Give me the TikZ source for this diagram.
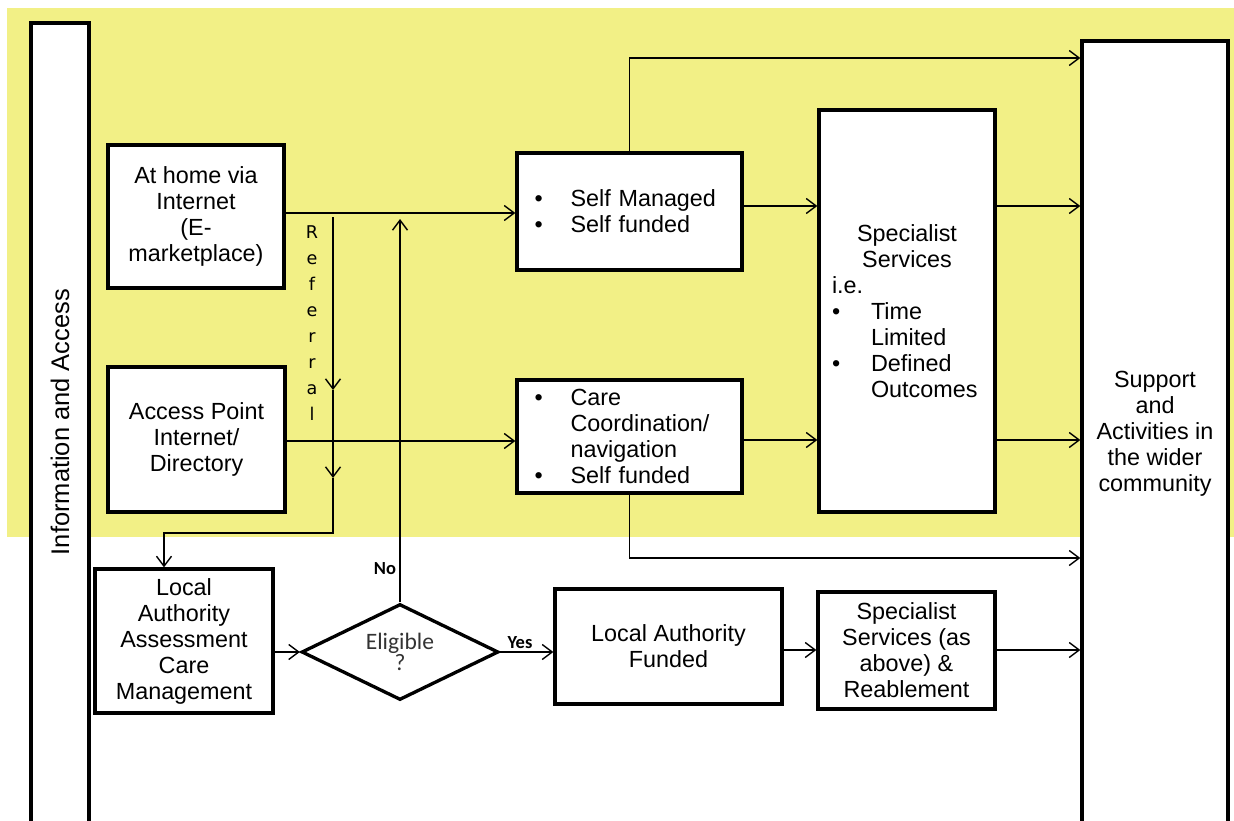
\documentclass[tikz,border=0pt]{standalone}
\usepackage{fontspec}
\setmainfont{Liberation Sans}
\newfontfamily\califont{Carlito}
\newfontfamily\dejafont{DejaVu Sans}
\usetikzlibrary{shapes.geometric,arrows.meta}
\definecolor{bgyellow}{RGB}{242,240,134}
\tikzset{
  box/.style={draw, line width=1.9pt, fill=white, inner sep=0pt},
  txt/.style={font=\fontsize{13.3}{14.8}\selectfont, align=center},
  listtxt/.style={font=\fontsize{13.3}{14.8}\selectfont, align=left},
  arr/.style={line width=0.8pt, -{Straight Barb[length=2mm,width=3mm]}},
  lbl/.style={font=\califont\bfseries\fontsize{10.5}{12}\selectfont}
}
\newcommand{\bul}[1][0.72cm]{\makebox[#1][l]{\textbullet}}

\begin{document}
\begin{tikzpicture}[x=0.02cm,y=-0.02cm]
  \useasboundingbox (0,0) rectangle (1234,821);
  \fill[bgyellow] (7,8) rectangle (1234,537);

  \node[box, minimum width=1.16cm, minimum height=16.08cm] (info) at (60,425) {};
  \node[rotate=90, font=\fontsize{14.5}{16}\selectfont] (infotxt) at (60,422) {Information and Access};
  \node[box, txt, minimum width=2.92cm, minimum height=15.72cm] (support) at (1155,434)
    {Support\\and\\Activities in\\the wider\\community};

  \node[box, txt, minimum width=3.52cm, minimum height=2.86cm] (home) at (196,216.5)
    {At home via\\Internet\\(E-\\marketplace)};
  \node[box, txt, minimum width=3.54cm, minimum height=2.9cm] (access) at (196.5,439.5)
    {Access Point\\Internet/\\Directory};
  \node[box, listtxt, text width=3.8cm, minimum width=4.5cm, minimum height=2.34cm] (self) at (629.5,211.5)
    {\bul Self Managed\\\bul Self funded};
  \node[box, listtxt, text width=3.8cm, minimum width=4.5cm, minimum height=2.26cm] (care) at (629.5,436.5)
    {\bul Care\\\hspace*{0.72cm}Coordination/\\\hspace*{0.72cm}navigation\\\bul Self funded};
  \node[box, listtxt, text width=3cm, minimum width=3.52cm, minimum height=8.04cm] (spec) at (907,311)
    {\makebox[3cm]{Specialist}\\\makebox[3cm]{Services}\\i.e.\\\bul[0.78cm]Time\\\hspace*{0.78cm}Limited\\\bul[0.78cm]Defined\\\hspace*{0.78cm}Outcomes};

  \node[box, txt, minimum width=3.56cm, minimum height=2.88cm] (assess) at (184,641)
    {Local\\Authority\\Assessment\\Care\\Management};
  \node[box, diamond, aspect=2, minimum width=3.94cm, minimum height=1.92cm, align=center,
    text=black!80, font=\califont\fontsize{13.4}{12}\selectfont] (elig) at (400,652) {Eligible\\?};
  \node[box, txt, minimum width=4.54cm, minimum height=2.3cm] (lafund) at (668.5,646.5)
    {Local Authority\\Funded};
  \node[box, txt, minimum width=3.54cm, minimum height=2.34cm] (spec2) at (906.5,650.5)
    {Specialist\\Services (as\\above) \&\\Reablement};

  \node[font=\dejafont\fontsize{10}{14.8}\selectfont, align=center] (reftxt) at (312,323)
    {R\\e\\f\\e\\r\\r\\a\\l};
  \node[lbl] (no) at (385,569) {No};
  \node[lbl] (yes) at (520,643) {Yes};

  \draw[arr] (home.east |- 0,213) -- (self.west |- 0,213);
  \draw[arr] (access.east |- 0,441) -- (care.west |- 0,441);
  \draw[arr] (self.east |- 0,206) -- (spec.west |- 0,206);
  \draw[arr] (care.east |- 0,440) -- (spec.west |- 0,440);
  \draw[arr] (spec.east |- 0,206) -- (support.west |- 0,206);
  \draw[arr] (spec.east |- 0,440) -- (support.west |- 0,440);
  \draw[arr] (self.north) |- (support.west |- 0,58);
  \draw[arr] (care.south) |- (support.west |- 0,558);

  \coordinate (reftop) at (333,217);
  \coordinate (refmid) at (333,390);
  \coordinate (reflow) at (333,478);
  \coordinate (refturn) at (333,533);
  \draw[arr] (reftop) -- (refmid);
  \draw[arr] (refmid) -- (reflow);
  \draw[arr] (reflow) -- (refturn) -| (assess.north -| 164,0);

  \coordinate (noend) at (401,219);
  \draw[arr] (elig.north) -- (elig.north |- noend);
  \draw[arr] (assess.east |- elig.west) -- (elig.west);
  \draw[arr] (elig.east) -- (lafund.west |- elig.east);
  \draw[arr] (lafund.east |- 0,650) -- (spec2.west |- 0,650);
  \draw[arr] (spec2.east |- 0,650) -- (support.west |- 0,650);
\end{tikzpicture}
\end{document}
